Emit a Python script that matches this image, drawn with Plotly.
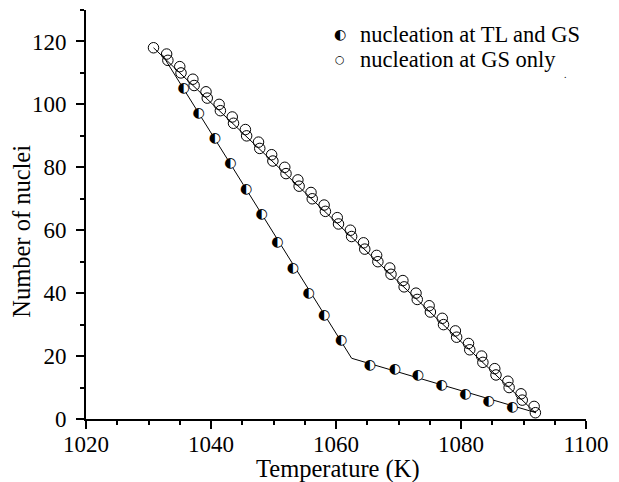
import plotly.graph_objects as go

# ---- data ----
tl_T = [1035.6, 1038.0, 1040.6, 1043.1, 1045.6, 1048.1, 1050.6, 1053.1, 1055.6,
        1058.1, 1060.8, 1065.4, 1069.4, 1073.1, 1076.9, 1080.7, 1084.4, 1088.2]
tl_N = [105.1, 97.1, 89.2, 81.1, 73.1, 65.1, 56.0, 47.9, 39.9,
        32.9, 25.0, 16.9, 15.8, 13.9, 10.8, 7.9, 5.7, 3.8]
tl_fit_T = [1032.2, 1062.5, 1092.0]
tl_fit_N = [115.8, 19.3, 2.0]

gs_T = [1030.8,
        1032.9, 1033.1, 1035.0, 1035.2, 1037.1, 1037.3, 1039.2, 1039.4,
        1041.3, 1041.5, 1043.4, 1043.6, 1045.5, 1045.7, 1047.6, 1047.8,
        1049.7, 1049.9, 1051.8, 1052.0, 1053.9, 1054.1, 1056.0, 1056.2,
        1058.1, 1058.3, 1060.2, 1060.4, 1062.3, 1062.5, 1064.4, 1064.6,
        1066.5, 1066.7, 1068.6, 1068.8, 1070.7, 1070.9, 1072.8, 1073.0,
        1074.9, 1075.1, 1077.0, 1077.2, 1079.1, 1079.3, 1081.2, 1081.4,
        1083.3, 1083.5, 1085.4, 1085.6, 1087.5, 1087.7, 1089.6, 1089.8,
        1091.7, 1091.9]
gs_N = [118,
        116, 114, 112, 110, 108, 106, 104, 102,
        100, 98, 96, 94, 92, 90, 88, 86,
        84, 82, 80, 78, 76, 74, 72, 70,
        68, 66, 64, 62, 60, 58, 56, 54,
        52, 50, 48, 46, 44, 42, 40, 38,
        36, 34, 32, 30, 28, 26, 24, 22,
        20, 18, 16, 14, 12, 10, 8, 6,
        4, 2]
gs_fit_T = [1030.8, 1091.9]
gs_fit_N = [118.0, 2.0]

x_ticks = [1020, 1040, 1060, 1080, 1100]
y_ticks = [0, 20, 40, 60, 80, 100, 120]
legend_labels = ["nucleation at TL and GS", "nucleation at GS only"]

SERIF = "Liberation Serif"
SYM = "DejaVu Sans"

fig = go.Figure()
fig.add_trace(go.Scatter(x=gs_fit_T, y=gs_fit_N, mode="lines",
                         line=dict(color="black", width=1), showlegend=False, hoverinfo="skip"))
fig.add_trace(go.Scatter(x=gs_T, y=gs_N, mode="markers",
                         marker=dict(symbol="circle-open", size=10.5, color="black", line=dict(width=1)),
                         showlegend=False))
fig.add_trace(go.Scatter(x=tl_fit_T, y=tl_fit_N, mode="lines",
                         line=dict(color="black", width=1), showlegend=False, hoverinfo="skip"))
fig.add_trace(go.Scatter(x=tl_T, y=tl_N, mode="markers",
                         marker=dict(symbol="circle", size=10, color="white", line=dict(width=0)),
                         showlegend=False))
fig.add_trace(go.Scatter(x=tl_T, y=tl_N, mode="text", text=["◐"] * len(tl_T),
                         textposition="middle center",
                         textfont=dict(family=SYM, size=14, color="black"),
                         showlegend=False))

W, H = 619, 482
L, R, T, B = 86, 27, 10, 63
pw, ph = W - L - R, H - T - B

def px(xp):
    return (xp - L) / pw

def py(yp):
    return (H - B - yp) / ph

axis_common = dict(
    showline=True, linecolor="black", linewidth=2, mirror=False,
    showgrid=False, zeroline=False,
    ticks="outside", ticklen=8, tickwidth=1.5, tickcolor="black",
    tickfont=dict(family=SERIF, size=23, color="black"),
)

fig.update_layout(
    width=W, height=H,
    margin=dict(l=L, r=R, t=T, b=B),
    paper_bgcolor="white", plot_bgcolor="white",
    showlegend=False,
    font=dict(family=SERIF),
    xaxis=dict(range=[1020, 1100], tickvals=x_ticks, ticklabelstandoff=-5,
               minor=dict(dtick=5, ticks="outside", ticklen=4, tickwidth=1.5, tickcolor="black"),
               **axis_common),
    yaxis=dict(range=[0, 130], tickvals=y_ticks, ticklabelstandoff=5,
               minor=dict(dtick=10, ticks="outside", ticklen=4, tickwidth=1.5, tickcolor="black"),
               **axis_common),
    annotations=[
        dict(text="Temperature (K)", xref="paper", yref="paper", x=px(341), y=py(469),
             xanchor="center", yanchor="middle", showarrow=False,
             font=dict(family=SERIF, size=24.5, color="black")),
        dict(text="Number of nuclei", xref="paper", yref="paper", x=px(20), y=py(231),
             xanchor="center", yanchor="middle", textangle=-90, showarrow=False,
             font=dict(family=SERIF, size=24.5, color="black")),
        dict(text="◐", xref="paper", yref="paper", x=px(343), y=py(34),
             xanchor="center", yanchor="middle", showarrow=False,
             font=dict(family=SYM, size=14, color="black")),
        dict(text="○", xref="paper", yref="paper", x=px(343), y=py(59),
             xanchor="center", yanchor="middle", showarrow=False,
             font=dict(family=SYM, size=11, color="black")),
        dict(text=legend_labels[0], xref="paper", yref="paper", x=px(361), y=py(34),
             xanchor="left", yanchor="middle", showarrow=False,
             font=dict(family=SERIF, size=22.5, color="black")),
        dict(text=legend_labels[1], xref="paper", yref="paper", x=px(361), y=py(59),
             xanchor="left", yanchor="middle", showarrow=False,
             font=dict(family=SERIF, size=22.5, color="black")),
        dict(text=".", xref="paper", yref="paper", x=px(571), y=py(74),
             xanchor="center", yanchor="middle", showarrow=False,
             font=dict(family=SERIF, size=10, color="black")),
    ],
)

fig.write_html("out.html")
